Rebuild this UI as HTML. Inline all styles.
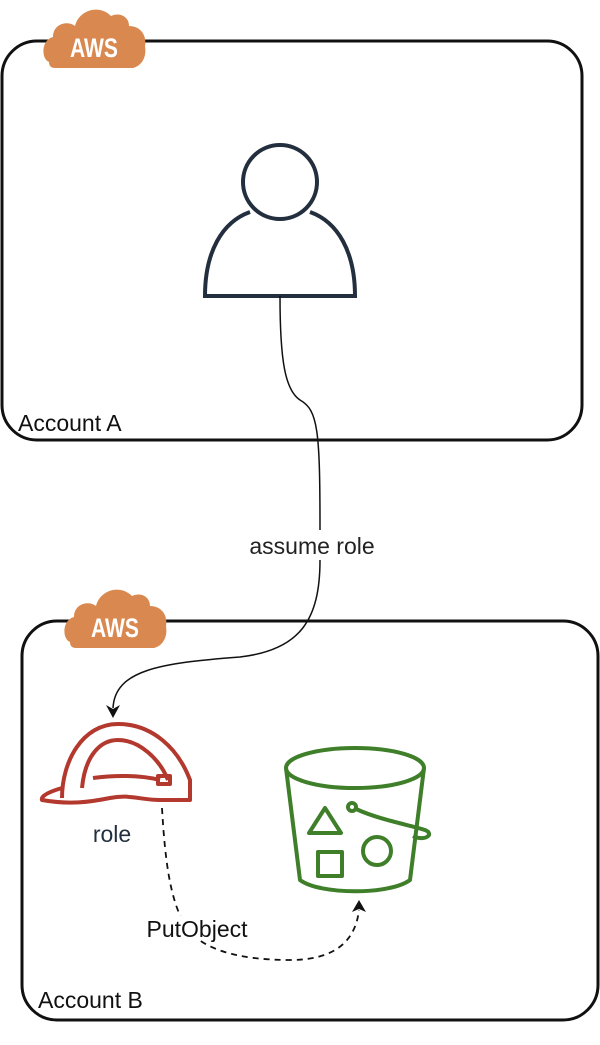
<!DOCTYPE html>
<html><head><meta charset="utf-8"><style>
html,body{margin:0;padding:0;background:#fff;}
body{width:600px;height:1040px;overflow:hidden;}
svg text{font-family:"Liberation Sans",sans-serif;}
</style></head><body>
<svg width="600" height="1040" viewBox="0 0 600 1040" xmlns="http://www.w3.org/2000/svg">
<defs>
<g id="cloud">
<path d="M8,58 C0,55 0,36 12,33 C12,20 26,16 34,22 C38,6 58,0 70,12 C78,8 88,12 88,22 C100,22 106,32 104,42 C106,54 100,62 92,64 L14,64 C10,64 8,62 8,58 Z" fill="#d9894f"/>
<text x="53" y="53" font-size="27" fill="#fff" text-anchor="middle" font-weight="bold" transform="translate(53 0) scale(0.78 1) translate(-53 0)">AWS</text>
</g>
</defs>
<rect x="2" y="41" width="580" height="399" rx="35" fill="none" stroke="#111" stroke-width="3"/>
<rect x="22" y="621" width="576" height="399" rx="35" fill="none" stroke="#111" stroke-width="3"/>
<use href="#cloud" x="41" y="4"/>
<use href="#cloud" x="62" y="584"/>
<text x="18" y="431" font-size="23" fill="#111">Account A</text>
<text x="38" y="1008" font-size="23" fill="#111">Account B</text>
<!-- person -->
<circle cx="280" cy="182" r="37" fill="none" stroke="#232f3e" stroke-width="4"/>
<path d="M250,212 C222,222 205,252 205,296 L355,296 C355,252 338,222 310,212" fill="none" stroke="#232f3e" stroke-width="4"/>
<!-- assume role connector -->
<path d="M280,296 C280,360 285,390 300,400 C318,410 320,430 320,530" fill="none" stroke="#111" stroke-width="1.5"/>
<path d="M320,560 C320,620 300,650 240,657 C160,663 115,670 113,708" fill="none" stroke="#111" stroke-width="1.5"/>
<path d="M106,705 L113,718 L120,705 L113,709 Z" fill="#111"/>
<text x="312" y="554" font-size="23" fill="#222" text-anchor="middle">assume role</text>
<!-- hat -->
<g fill="none" stroke="#b3392f" stroke-width="4" stroke-linejoin="round">
<path d="M62,798 C62,762 82,724 118,724 C152,724 178,748 190,780 L190,800 L160,800 C140,800 130,794 110,798 C90,802 70,805 42,800 C40,795 55,790 62,788"/>
<path d="M82,788 C85,756 100,740 118,740 C140,740 160,760 168,780"/>
<path d="M93,778 C115,775 140,775 160,780"/>
<rect x="158" y="776" width="12" height="8"/>
</g>
<text x="112" y="842" font-size="23" fill="#232f3e" text-anchor="middle">role</text>
<!-- bucket -->
<g fill="none" stroke="#3f7f2a" stroke-width="4" stroke-linejoin="round">
<ellipse cx="355" cy="768" rx="69" ry="20"/>
<path d="M286,768 L300,880 C320,895 390,895 410,880 L424,768"/>
<path d="M309,833 L325,808 L341,833 Z"/>
<rect x="318" y="852" width="24" height="24"/>
<circle cx="377" cy="851" r="14"/>
<circle cx="352" cy="807" r="4"/>
<path d="M356,809 C380,820 410,825 425,830 C435,834 425,842 413,836"/>
</g>
<!-- PutObject dashed -->
<path d="M162,808 C165,860 170,900 185,925 C200,950 240,960 290,960 C330,960 355,945 359,910" fill="none" stroke="#111" stroke-width="1.8" stroke-dasharray="6,5"/>
<path d="M352,912 L359,900 L366,912 L359,909 Z" fill="#111"/>
<rect x="143" y="916" width="110" height="24" fill="#fff"/>
<text x="197" y="937" font-size="23" fill="#111" text-anchor="middle">PutObject</text>
</svg>
</body></html>
